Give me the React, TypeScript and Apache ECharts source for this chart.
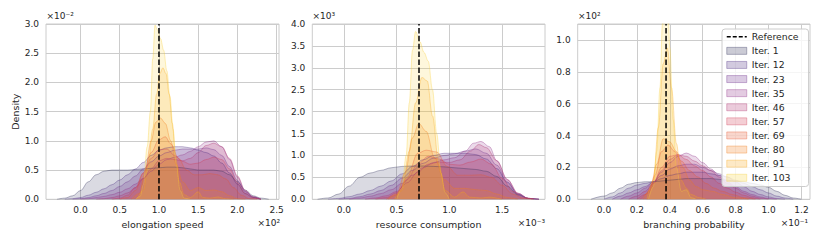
import React, { useEffect, useRef } from "react";
import * as echarts from "echarts";

const ITER_NAMES = ["Iter. 1", "Iter. 12", "Iter. 23", "Iter. 35", "Iter. 46", "Iter. 57", "Iter. 69", "Iter. 80", "Iter. 91", "Iter. 103"];
const ITER_COLORS = ["#2e2e58", "#4a2c80", "#6a2a8a", "#8e2e88", "#b0306e", "#d23c55", "#e85a35", "#f47f1e", "#f9a91a", "#f8d23a"];

const X_TICKS_SPEED = [0, 0.5, 1, 1.5, 2, 2.5];
const X_TICKS_RESOURCE = [0, 0.5, 1, 1.5];
const X_TICKS_BRANCH = [0, 0.2, 0.4, 0.6, 0.8, 1.0, 1.2];

const REF_SPEED = 1.0;
const REF_RESOURCE = 0.712;
const REF_BRANCH = 0.377;

// ---- elongation speed (x ×10², density ×10⁻²) ----
const speed1 = [[-0.3,0],[-0.2,0.02],[-0.1,0.06],[0,0.15],[0.1,0.3],[0.2,0.42],[0.3,0.48],[0.4,0.5],[0.5,0.5],[0.6,0.5],[0.7,0.51],[0.8,0.52],[0.9,0.53],[1.0,0.54],[1.1,0.55],[1.2,0.55],[1.3,0.54],[1.4,0.52],[1.5,0.5],[1.6,0.5],[1.7,0.5],[1.8,0.48],[1.9,0.42],[2.0,0.3],[2.1,0.16],[2.2,0.06],[2.3,0.02],[2.4,0]];
const speed12 = [[-0.2,0],[-0.1,0.01],[0,0.03],[0.1,0.07],[0.2,0.12],[0.3,0.18],[0.4,0.25],[0.5,0.33],[0.6,0.42],[0.7,0.52],[0.8,0.63],[0.9,0.75],[1.0,0.84],[1.1,0.88],[1.2,0.9],[1.3,0.9],[1.4,0.88],[1.5,0.84],[1.6,0.8],[1.7,0.74],[1.8,0.62],[1.9,0.45],[2.0,0.26],[2.1,0.1],[2.2,0.03],[2.3,0]];
const speed23 = [[-0.1,0],[0,0.01],[0.1,0.03],[0.2,0.06],[0.3,0.1],[0.4,0.15],[0.5,0.22],[0.6,0.3],[0.7,0.4],[0.8,0.52],[0.9,0.64],[1.0,0.74],[1.1,0.8],[1.2,0.84],[1.3,0.86],[1.4,0.86],[1.5,0.86],[1.6,0.88],[1.7,0.85],[1.8,0.75],[1.9,0.56],[2.0,0.32],[2.1,0.13],[2.2,0.04],[2.3,0]];
const speed35 = [[0,0],[0.1,0.01],[0.2,0.03],[0.3,0.05],[0.4,0.08],[0.5,0.12],[0.6,0.18],[0.7,0.26],[0.8,0.36],[0.9,0.48],[1.0,0.6],[1.1,0.68],[1.2,0.72],[1.3,0.76],[1.4,0.82],[1.5,0.9],[1.6,0.98],[1.7,1.0],[1.8,0.9],[1.9,0.68],[2.0,0.38],[2.1,0.14],[2.2,0.04],[2.3,0]];
const speed46 = [[0.2,0],[0.3,0.01],[0.4,0.03],[0.5,0.06],[0.6,0.11],[0.7,0.2],[0.8,0.35],[0.9,0.52],[1.0,0.66],[1.1,0.7],[1.2,0.68],[1.3,0.66],[1.4,0.7],[1.5,0.8],[1.6,0.92],[1.7,0.96],[1.8,0.9],[1.9,0.7],[2.0,0.4],[2.1,0.15],[2.2,0.04],[2.3,0]];
const speed57 = [[0.4,0],[0.5,0.02],[0.6,0.07],[0.7,0.2],[0.8,0.45],[0.9,0.7],[1.0,0.85],[1.1,0.86],[1.2,0.75],[1.3,0.65],[1.4,0.6],[1.5,0.62],[1.6,0.68],[1.7,0.72],[1.8,0.68],[1.9,0.52],[2.0,0.28],[2.1,0.1],[2.2,0.02],[2.3,0]];
const speed69 = [[0.5,0],[0.6,0.03],[0.7,0.15],[0.8,0.45],[0.9,0.8],[1.0,1.02],[1.08,1.07],[1.15,0.95],[1.25,0.7],[1.35,0.5],[1.45,0.42],[1.55,0.42],[1.65,0.44],[1.75,0.42],[1.85,0.35],[1.95,0.2],[2.05,0.07],[2.15,0.01],[2.25,0]];
const speed80 = [[0.65,0],[0.75,0.1],[0.82,0.45],[0.9,1.0],[0.96,1.32],[1.02,1.39],[1.08,1.3],[1.15,1.0],[1.22,0.6],[1.3,0.3],[1.4,0.15],[1.5,0.2],[1.6,0.15],[1.7,0.16],[1.8,0.13],[1.9,0.06],[2.0,0.01],[2.1,0]];
const speed91 = [[0.72,0],[0.8,0.15],[0.86,0.55],[0.92,1.2],[0.97,1.8],[1.01,2.15],[1.05,2.25],[1.09,2.15],[1.13,1.8],[1.17,1.3],[1.21,0.75],[1.26,0.3],[1.32,0.08],[1.4,0.03],[1.5,0.13],[1.56,0.03],[1.65,0.02],[1.75,0.04],[1.85,0.01],[1.95,0]];
const speed103 = [[0.7,0],[0.76,0.05],[0.8,0.25],[0.85,0.9],[0.89,1.5],[0.92,2.4],[0.95,2.98],[0.98,2.9],[1.02,2.75],[1.06,2.55],[1.1,2.2],[1.14,1.76],[1.18,1.2],[1.22,0.6],[1.27,0.15],[1.32,0.02],[1.4,0]];

// ---- resource consumption (x ×10⁻³, density ×10³) ----
const res1 = [[-0.25,0],[-0.15,0.03],[-0.05,0.12],[0.05,0.3],[0.15,0.5],[0.25,0.6],[0.35,0.66],[0.45,0.72],[0.55,0.75],[0.65,0.76],[0.75,0.76],[0.85,0.75],[0.95,0.74],[1.05,0.72],[1.15,0.7],[1.25,0.68],[1.35,0.64],[1.45,0.52],[1.55,0.3],[1.65,0.1],[1.75,0.02],[1.85,0]];
const res12 = [[-0.15,0],[-0.05,0.02],[0.05,0.06],[0.15,0.12],[0.25,0.2],[0.35,0.3],[0.45,0.42],[0.55,0.58],[0.65,0.75],[0.75,0.9],[0.85,1.0],[0.95,1.05],[1.05,1.05],[1.15,1.05],[1.25,1.02],[1.35,0.92],[1.45,0.7],[1.55,0.38],[1.65,0.12],[1.75,0.02],[1.85,0]];
const res23 = [[-0.05,0],[0.05,0.02],[0.15,0.06],[0.25,0.12],[0.35,0.2],[0.45,0.32],[0.55,0.48],[0.65,0.66],[0.75,0.82],[0.85,0.94],[0.95,1.0],[1.05,1.04],[1.15,1.1],[1.25,1.15],[1.35,1.05],[1.45,0.78],[1.55,0.4],[1.65,0.12],[1.75,0.02],[1.85,0]];
const res35 = [[0.05,0],[0.15,0.03],[0.25,0.07],[0.35,0.13],[0.45,0.22],[0.55,0.36],[0.65,0.55],[0.75,0.72],[0.85,0.84],[0.95,0.9],[1.05,0.95],[1.15,1.1],[1.23,1.28],[1.3,1.32],[1.38,1.2],[1.45,0.88],[1.55,0.45],[1.65,0.14],[1.75,0.02],[1.85,0]];
const res46 = [[0.2,0],[0.3,0.03],[0.4,0.08],[0.5,0.18],[0.6,0.38],[0.7,0.62],[0.8,0.8],[0.9,0.85],[1.0,0.84],[1.1,0.9],[1.2,1.1],[1.28,1.25],[1.35,1.18],[1.45,0.88],[1.55,0.45],[1.65,0.14],[1.75,0.02],[1.85,0]];
const res57 = [[0.3,0],[0.4,0.04],[0.5,0.15],[0.6,0.45],[0.7,0.8],[0.8,0.98],[0.9,0.92],[1.0,0.8],[1.1,0.78],[1.2,0.85],[1.3,0.92],[1.4,0.8],[1.5,0.48],[1.6,0.18],[1.7,0.04],[1.8,0]];
const res69 = [[0.4,0],[0.5,0.1],[0.6,0.5],[0.7,1.05],[0.78,1.12],[0.88,1.08],[0.98,0.75],[1.08,0.55],[1.2,0.55],[1.3,0.56],[1.4,0.5],[1.5,0.32],[1.6,0.12],[1.7,0.02],[1.8,0]];
const res80 = [[0.42,0],[0.5,0.12],[0.58,0.6],[0.65,1.4],[0.71,1.73],[0.78,1.55],[0.86,0.95],[0.95,0.45],[1.05,0.25],[1.15,0.25],[1.25,0.22],[1.35,0.2],[1.45,0.12],[1.55,0.04],[1.65,0]];
const res91 = [[0.48,0],[0.55,0.2],[0.62,1.1],[0.68,2.2],[0.74,2.78],[0.79,2.7],[0.84,1.9],[0.9,0.8],[0.96,0.2],[1.05,0.05],[1.13,0.17],[1.19,0.05],[1.3,0.03],[1.38,0.05],[1.5,0]];
const res103 = [[0.5,0],[0.55,0.25],[0.59,1.0],[0.62,2.2],[0.65,3.4],[0.68,3.83],[0.72,3.6],[0.76,3.35],[0.8,3.15],[0.84,2.5],[0.88,1.5],[0.92,0.6],[0.96,0.15],[1.0,0]];

// ---- branching probability (x ×10⁻¹, density ×10²) ----
const br1 = [[-0.08,0],[0,0.02],[0.05,0.04],[0.1,0.07],[0.15,0.095],[0.2,0.105],[0.25,0.11],[0.3,0.11],[0.35,0.115],[0.4,0.12],[0.45,0.125],[0.5,0.13],[0.55,0.13],[0.6,0.13],[0.65,0.13],[0.7,0.125],[0.75,0.12],[0.8,0.115],[0.85,0.11],[0.9,0.1],[0.95,0.09],[1.0,0.075],[1.05,0.05],[1.1,0.025],[1.15,0.008],[1.2,0]];
const br12 = [[0,0],[0.05,0.015],[0.1,0.04],[0.15,0.07],[0.2,0.09],[0.25,0.1],[0.3,0.11],[0.35,0.13],[0.4,0.15],[0.45,0.16],[0.5,0.17],[0.55,0.17],[0.6,0.17],[0.65,0.16],[0.7,0.15],[0.75,0.14],[0.8,0.12],[0.85,0.1],[0.9,0.08],[0.95,0.06],[1.0,0.04],[1.05,0.02],[1.1,0.008],[1.15,0]];
const br23 = [[0.05,0],[0.1,0.02],[0.15,0.04],[0.2,0.06],[0.25,0.08],[0.3,0.11],[0.35,0.15],[0.4,0.19],[0.45,0.21],[0.5,0.22],[0.55,0.22],[0.6,0.2],[0.65,0.18],[0.7,0.16],[0.75,0.14],[0.8,0.11],[0.85,0.08],[0.9,0.05],[0.95,0.03],[1.0,0.015],[1.05,0.005],[1.1,0]];
const br35 = [[0.1,0],[0.15,0.02],[0.2,0.04],[0.25,0.07],[0.3,0.11],[0.35,0.17],[0.4,0.23],[0.45,0.27],[0.5,0.29],[0.55,0.27],[0.6,0.23],[0.65,0.19],[0.7,0.15],[0.75,0.11],[0.8,0.08],[0.85,0.05],[0.9,0.03],[0.95,0.015],[1.0,0.005],[1.05,0]];
const br46 = [[0.15,0],[0.2,0.02],[0.25,0.05],[0.3,0.1],[0.35,0.18],[0.4,0.25],[0.45,0.28],[0.5,0.27],[0.55,0.24],[0.6,0.21],[0.65,0.18],[0.7,0.14],[0.75,0.1],[0.8,0.07],[0.85,0.04],[0.9,0.02],[0.95,0.008],[1.0,0]];
const br57 = [[0.2,0],[0.25,0.03],[0.3,0.1],[0.35,0.2],[0.4,0.27],[0.45,0.28],[0.5,0.25],[0.55,0.21],[0.6,0.18],[0.65,0.14],[0.7,0.1],[0.75,0.07],[0.8,0.045],[0.85,0.025],[0.9,0.01],[0.95,0]];
const br69 = [[0.22,0],[0.27,0.04],[0.31,0.15],[0.35,0.3],[0.39,0.34],[0.43,0.3],[0.47,0.24],[0.52,0.18],[0.57,0.14],[0.62,0.1],[0.67,0.07],[0.72,0.05],[0.78,0.03],[0.85,0.01],[0.92,0]];
const br80 = [[0.24,0],[0.28,0.06],[0.32,0.22],[0.36,0.38],[0.4,0.36],[0.44,0.3],[0.48,0.2],[0.52,0.12],[0.56,0.08],[0.6,0.06],[0.66,0.05],[0.72,0.03],[0.8,0.01],[0.88,0]];
const br91 = [[0.26,0],[0.3,0.12],[0.33,0.45],[0.36,0.85],[0.385,0.95],[0.41,0.7],[0.44,0.35],[0.47,0.12],[0.5,0.07],[0.53,0.03],[0.58,0.01],[0.62,0]];
const br103 = [[0.27,0],[0.3,0.08],[0.32,0.3],[0.34,0.7],[0.355,1.1],[0.37,1.4],[0.385,1.35],[0.4,0.95],[0.42,0.5],[0.44,0.2],[0.47,0.05],[0.5,0.06],[0.53,0.01],[0.56,0]];

const SPEED_SERIES = [speed1, speed12, speed23, speed35, speed46, speed57, speed69, speed80, speed91, speed103];
const RES_SERIES = [res1, res12, res23, res35, res46, res57, res69, res80, res91, res103];
const BR_SERIES = [br1, br12, br23, br35, br46, br57, br69, br80, br91, br103];

const TEXT_COLOR = "#262626";
const GRID_COLOR = "#cccccc";
const FONT = "DejaVu Sans";

function rgba(hex: string, a: number) {
  const n = parseInt(hex.slice(1), 16);
  return `rgba(${(n >> 16) & 255},${(n >> 8) & 255},${n & 255},${a})`;
}

const PANELS = [
  { left: 46, width: 233, xMin: -0.44, xMax: 2.53, ticks: X_TICKS_SPEED, yMax: 3.0, yInt: 0.5, ref: REF_SPEED, data: SPEED_SERIES, xName: "elongation speed" },
  { left: 312.3, width: 232.7, xMin: -0.3, xMax: 1.907, ticks: X_TICKS_RESOURCE, yMax: 4.0, yInt: 0.5, ref: REF_RESOURCE, data: RES_SERIES, xName: "resource consumption" },
  { left: 577.7, width: 232.3, xMin: -0.16, xMax: 1.252, ticks: X_TICKS_BRANCH, yMax: 1.1, yInt: 0.2, ref: REF_BRANCH, data: BR_SERIES, xName: "branching probability" },
];

export default function App() {
  const ref = useRef<HTMLDivElement>(null);
  useEffect(() => {
    if (!ref.current) return;
    const chart = echarts.init(ref.current, null, { renderer: "svg" });
    const top = 24;
    const height = 175.3;
    const grids = PANELS.map((p) => ({
      left: p.left, top, width: p.width, height, containLabel: false,
      show: true, borderColor: GRID_COLOR, borderWidth: 1, backgroundColor: "transparent",
    }));
    const xAxes = PANELS.map((p, i) => ({
      type: "value", gridIndex: i, min: p.xMin, max: p.xMax,
      name: p.xName, nameLocation: "middle", nameGap: 17,
      nameTextStyle: { color: TEXT_COLOR, fontSize: 9.5, fontFamily: FONT },
      axisLine: { show: false },
      axisTick: { show: false, customValues: p.ticks },
      axisLabel: { customValues: p.ticks, color: TEXT_COLOR, fontSize: 9, fontFamily: FONT, margin: 6, formatter: (v: number) => v.toFixed(1) },
      splitLine: { show: true, lineStyle: { color: GRID_COLOR, width: 1 } },
    }));
    const yAxes = PANELS.map((p, i) => ({
      type: "value", gridIndex: i, min: 0, max: p.yMax, interval: p.yInt,
      name: i === 0 ? "Density" : "", nameLocation: "middle", nameGap: 25,
      nameTextStyle: { color: TEXT_COLOR, fontSize: 9.5, fontFamily: FONT },
      axisLine: { show: false }, axisTick: { show: false },
      axisLabel: { color: TEXT_COLOR, fontSize: 9, fontFamily: FONT, margin: 7, showMaxLabel: i !== 2, formatter: (v: number) => v.toFixed(1) },
      splitLine: { show: true, lineStyle: { color: GRID_COLOR, width: 1 } },
    }));
    const series: any[] = [];
    PANELS.forEach((p, pi) => {
      p.data.forEach((d, i) => {
        series.push({
          type: "line", name: ITER_NAMES[i], xAxisIndex: pi, yAxisIndex: pi, data: d,
          smooth: 0.35, smoothMonotone: "x", symbol: "none", showSymbol: false, silent: true,
          lineStyle: { color: rgba(ITER_COLORS[i], 0.35), width: 1 },
          itemStyle: { color: ITER_COLORS[i] },
          areaStyle: { color: rgba(ITER_COLORS[i], 0.25) },
          z: 2, zlevel: 0,
        });
      });
      series.push({
        type: "line", name: "Reference", xAxisIndex: pi, yAxisIndex: pi,
        data: [[p.ref, 0], [p.ref, p.yMax]], symbol: "none", showSymbol: false, silent: true,
        lineStyle: { color: "#000000", width: 1.5, type: [5.5, 2.4] },
        itemStyle: { color: "#000000" }, z: 5,
      });
    });
    const legendData: any[] = [{ name: "Reference", itemStyle: { color: "rgba(0,0,0,0)", borderWidth: 0, opacity: 0 } }].concat(
      ITER_NAMES.map((n, i) => ({
        name: n, icon: "rect",
        itemStyle: { color: rgba(ITER_COLORS[i], 0.25), borderColor: rgba(ITER_COLORS[i], 0.35), borderWidth: 1 },
      }))
    );
    const txt = (x: number, y: number, s: string, align: string) => ({
      type: "text", x, y,
      style: { text: s, fill: TEXT_COLOR, fontSize: 9, fontFamily: FONT, align, verticalAlign: "middle" },
    });
    chart.setOption({
      animation: false,
      backgroundColor: "#ffffff",
      textStyle: { fontFamily: FONT },
      grid: grids,
      xAxis: xAxes,
      yAxis: yAxes,
      series,
      legend: {
        data: legendData, orient: "vertical", left: 722, top: 29,
        itemWidth: 20, itemHeight: 7, itemGap: 2.6, selectedMode: false,
        padding: [2, 10, 3, 4], backgroundColor: "rgba(255,255,255,0.8)",
        borderColor: GRID_COLOR, borderWidth: 1, borderRadius: 3,
        lineStyle: { type: [4, 2], width: 1.5 },
        textStyle: { color: TEXT_COLOR, fontSize: 9.3, fontFamily: FONT, lineHeight: 11.5 },
      },
      graphic: [
        txt(46.5, 16, "×10⁻²", "left"),
        txt(280, 223, "×10²", "right"),
        txt(312.5, 16, "×10³", "left"),
        txt(545, 223, "×10⁻³", "right"),
        txt(578, 16, "×10²", "left"),
        txt(808, 223, "×10⁻¹", "right"),
      ],
    });
    return () => chart.dispose();
  }, []);
  return <div ref={ref} style={{ position: "fixed", left: 0, top: 0, width: 830, height: 242 }} />;
}
